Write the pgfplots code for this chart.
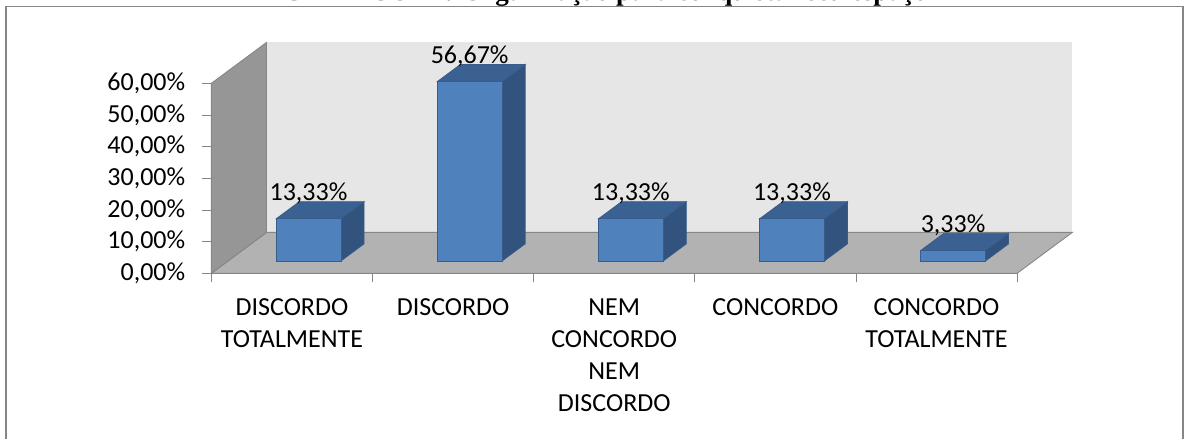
\documentclass[border=0pt]{standalone}
\usepackage{fontspec}
\setmainfont{Carlito}
\newfontfamily\titlefont{Liberation Serif}
\usepackage{pgfplots}
\usepackage{pgfplotstable}
\pgfplotsset{compat=1.18}

\definecolor{backwall}{RGB}{230,230,230}
\definecolor{floorc}{RGB}{178,178,178}
\definecolor{sidewall}{RGB}{150,150,150}
\definecolor{wallline}{RGB}{134,134,134}
\definecolor{barfront}{RGB}{79,129,189}
\definecolor{bartop}{RGB}{58,97,146}
\definecolor{barside}{RGB}{49,83,126}
\definecolor{barline}{RGB}{56,93,138}
\definecolor{framec}{RGB}{134,134,134}

% answers (percent)
\pgfplotstableread{
idx val
0 13.33
1 56.67
2 13.33
3 13.33
4 3.33
}\bars

% pseudo-3D geometry, in axis units
\def\dpx{0.342}   % depth of the box, x
\def\dpy{12.9}    % depth of the box, y
\def\bhw{0.201}   % half width of a bar
\def\bdx{0.1026}  % bar front offset into the box, x
\def\bdy{3.87}    % bar front offset into the box, y
\def\bkx{0.1436}  % bar depth, x
\def\bky{5.42}    % bar depth, y

\newcommand\lblfont{\fontsize{26}{32}\selectfont}

\begin{document}
\begin{tikzpicture}
\useasboundingbox (0,0) rectangle (1186pt,439pt);

% caption above the chart
\node[anchor=base west, inner sep=0pt, font=\titlefont\bfseries\fontsize{27}{30}\selectfont]
  at (283pt,438.5pt) {GRÁFICO 12: Organização para conquistar seu espaço};

% chart frame
\draw[framec, line width=1.6pt] (6pt,-10pt) rectangle (1183pt,432.5pt);

\begin{axis}[
  at={(211.4pt,165.7pt)}, anchor=south west,
  scale only axis, width=805.7pt, height=190pt,
  xmin=0, xmax=5, ymin=0, ymax=60,
  clip=false, axis on top,
  axis x line*=bottom, axis y line*=left,
  axis line style={wallline, line width=0.9pt},
  tick align=outside,
  major tick length=9pt, minor tick length=9pt,
  every tick/.style={wallline, line width=0.9pt},
  xtick={0.5,1.5,2.5,3.5,4.5},
  minor xtick={0,1,2,3,4,5},
  major x tick style={draw=none},
  xticklabels={{DISCORDO\\TOTALMENTE},{DISCORDO},{NEM\\CONCORDO\\NEM\\DISCORDO},{CONCORDO},{CONCORDO\\TOTALMENTE}},
  xticklabel style={align=center, anchor=north, inner sep=0pt, font=\lblfont, yshift=-16pt},
  ytick={0,10,...,60},
  yticklabel={\pgfmathprintnumber[fixed,fixed zerofill,precision=2,use comma,assume math mode=true]{\tick}\%},
  yticklabel style={anchor=east, inner sep=0pt, font=\lblfont, xshift=-17pt},
]

% walls and floor
\addplot[draw=none, fill=backwall] coordinates {(\dpx,\dpy) (5+\dpx,\dpy) (5+\dpx,60+\dpy) (\dpx,60+\dpy)} -- cycle;
\addplot[draw=wallline, fill=floorc, line width=0.9pt] coordinates {(0,0) (5,0) (5+\dpx,\dpy) (\dpx,\dpy)} -- cycle;
\addplot[draw=wallline, fill=sidewall, line width=0.9pt] coordinates {(0,0) (0,60) (\dpx,60+\dpy) (\dpx,\dpy)} -- cycle;

% bars: front, top and side faces
\pgfplotsinvokeforeach{0,...,4}{
  \pgfplotstablegetelem{#1}{val}\of\bars
  \pgfmathsetmacro\xl{#1+0.5-\bhw+\bdx}
  \pgfmathsetmacro\xr{#1+0.5+\bhw+\bdx}
  \pgfmathsetmacro\xlb{\xl+\bkx}
  \pgfmathsetmacro\xrb{\xr+\bkx}
  \pgfmathsetmacro\yb{\bdy}
  \pgfmathsetmacro\yt{\bdy+\pgfplotsretval}
  \pgfmathsetmacro\ybb{\yb+\bky}
  \pgfmathsetmacro\ytb{\yt+\bky}
  \addplot[draw=barline, fill=barside, line width=0.7pt] coordinates {(\xr,\yb) (\xrb,\ybb) (\xrb,\ytb) (\xr,\yt)} -- cycle;
  \addplot[draw=barline, fill=bartop, line width=0.7pt] coordinates {(\xl,\yt) (\xr,\yt) (\xrb,\ytb) (\xlb,\ytb)} -- cycle;
  \addplot[draw=barline, fill=barfront, line width=0.7pt] coordinates {(\xl,\yb) (\xr,\yb) (\xr,\yt) (\xl,\yt)} -- cycle;
}

% value labels
\addplot[draw=none, point meta=explicit,
  nodes near coords={\pgfmathprintnumber[fixed,fixed zerofill,precision=2,use comma,assume math mode=true]{\pgfplotspointmeta}\%},
  every node near coord/.append style={anchor=base, inner sep=0pt, font=\lblfont, yshift=1pt}]
  table[x expr=\thisrow{idx}+0.5+\bdx, y expr=\thisrow{val}+\bdy+\bky, meta=val]{\bars};

\end{axis}
\end{tikzpicture}
\end{document}
